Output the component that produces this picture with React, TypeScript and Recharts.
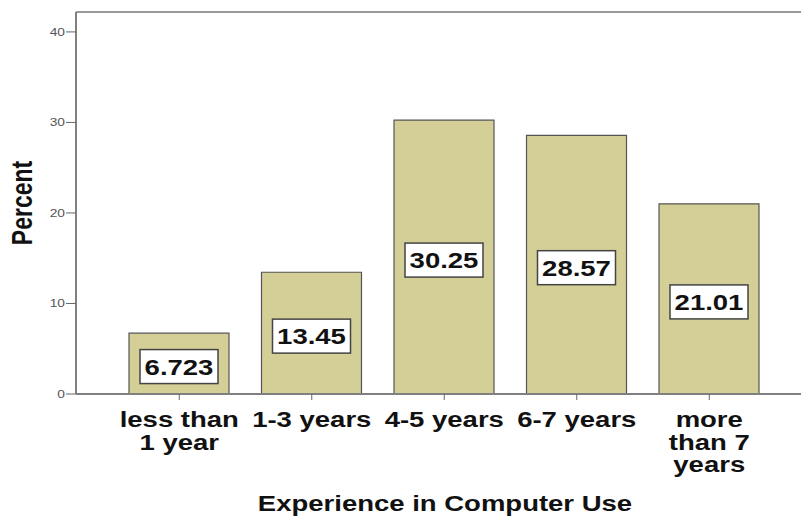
import React from 'react';
import { BarChart, Bar, XAxis, YAxis, LabelList, ReferenceLine } from 'recharts';

const categories = ['less than 1 year', '1-3 years', '4-5 years', '6-7 years', 'more than 7 years'];
const tickLines = [['less than', '1 year'], ['1-3 years'], ['4-5 years'], ['6-7 years'], ['more', 'than 7', 'years']];
const percents = [6.723, 13.45, 30.25, 28.57, 21.01];
const valueLabels = ['6.723', '13.45', '30.25', '28.57', '21.01'];
const yTicks = [0, 10, 20, 30, 40];
const yMax = 42.2;

const FONT = '"Liberation Sans", Arial, sans-serif';
const STRETCH = 1.25;

const data = categories.map((c, i) => ({ category: c, percent: percents[i], label: valueLabels[i] }));

function XTick(props: any) {
  const { x, payload, index } = props;
  const lines = tickLines[index] || [payload.value];
  return (
    <g>
      {lines.map((line, i) => (
        <text
          key={i}
          transform={`translate(${x},${427 + i * 22.5}) scale(${STRETCH},1)`}
          textAnchor="middle"
          fontFamily={FONT}
          fontWeight="bold"
          fontSize={22}
          fill="#111"
        >
          {line}
        </text>
      ))}
    </g>
  );
}

function YTick(props: any) {
  const { y, payload } = props;
  return (
    <text
      transform={`translate(65,${y + 4}) scale(${STRETCH},1)`}
      textAnchor="end"
      fontFamily={FONT}
      fontSize={11}
      fill="#555"
    >
      {payload.value}
    </text>
  );
}

function ValueBox(props: any) {
  const { x, y, width, height, value } = props;
  const cx = x + width / 2;
  const cy = y + height / 2 + 3;
  return (
    <g>
      <rect x={cx - 39} y={cy - 17} width={78} height={34} fill="#fff" stroke="#444" strokeWidth={1.5} />
      <text
        transform={`translate(${cx},${cy + 8}) scale(${STRETCH},1)`}
        textAnchor="middle"
        fontFamily={FONT}
        fontWeight="bold"
        fontSize={22}
        fill="#111"
      >
        {value}
      </text>
    </g>
  );
}

export default function App() {
  return (
    <div style={{ position: 'absolute', left: 0, top: 0, width: 801, height: 518, overflow: 'hidden', background: '#fff' }}>
      <BarChart width={830} height={518} data={data} margin={{ top: 12, right: 10, bottom: 0, left: 0 }}>
        <ReferenceLine y={yMax} stroke="#999" strokeWidth={2} />
        <XAxis
          dataKey="category"
          height={124}
          padding={{ left: 37, right: 44.5 }}
          tick={<XTick />}
          tickSize={6}
          tickLine={{ stroke: '#666' }}
          axisLine={{ stroke: '#808080', strokeWidth: 2 }}
          interval={0}
          label={{
            content: () => (
              <text
                transform={`translate(445,511) scale(${STRETCH},1)`}
                textAnchor="middle"
                fontFamily={FONT}
                fontWeight="bold"
                fontSize={22}
                fill="#111"
              >
                Experience in Computer Use
              </text>
            ),
          }}
        />
        <YAxis
          width={76}
          domain={[0, yMax]}
          ticks={yTicks}
          allowDataOverflow
          tick={<YTick />}
          tickSize={10}
          tickLine={{ stroke: '#666' }}
          axisLine={{ stroke: '#808080', strokeWidth: 2 }}
          label={{
            content: () => (
              <text
                transform={`translate(32,203) scale(${STRETCH},1) rotate(-90)`}
                textAnchor="middle"
                fontFamily={FONT}
                fontWeight="bold"
                fontSize={23}
                fill="#111"
              >
                Percent
              </text>
            ),
          }}
        />
        <Bar dataKey="percent" barSize={100} fill="#D4CF97" stroke="#555" strokeWidth={1.2} isAnimationActive={false}>
          <LabelList dataKey="label" content={<ValueBox />} />
        </Bar>
      </BarChart>
    </div>
  );
}
